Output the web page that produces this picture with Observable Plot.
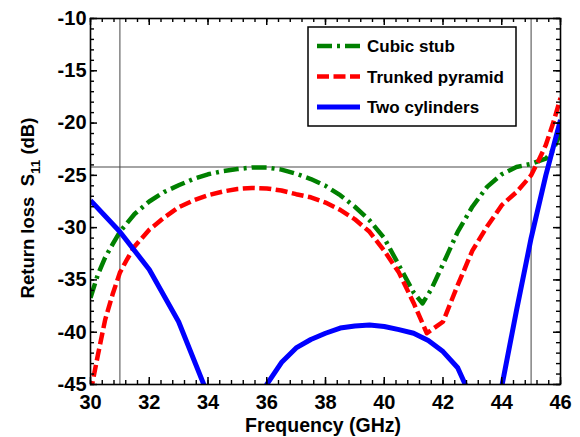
<!DOCTYPE html>
<html><head><meta charset="utf-8">
<script src="https://cdn.jsdelivr.net/npm/d3@7"></script>
<script src="https://cdn.jsdelivr.net/npm/@observablehq/plot@0.6"></script>
<style>html,body{margin:0;padding:0;background:#fff}</style>
</head><body><div id="chart"></div>
<script>
// ---- data ----
const cubicFreq = [30,30.25,30.5,30.75,31,31.5,32,32.5,33,33.5,34,34.5,35,35.5,36,36.5,37,37.5,38,38.5,39,39.5,40,40.5,41,41.3,41.6,42,42.5,43,43.5,44,44.5,45,45.5,45.75,46];
const cubicS11  = [-36.7,-34.5,-32.85,-31.6,-30.4,-28.7,-27.5,-26.6,-25.95,-25.35,-24.9,-24.6,-24.4,-24.25,-24.25,-24.45,-24.85,-25.35,-26.0,-26.9,-28.0,-29.3,-31.0,-33.6,-36.2,-37.25,-35.9,-33.5,-30.4,-28.0,-26.1,-24.9,-24.2,-23.9,-23.4,-22.6,-20.9];
const pyrFreq = [30,30.25,30.5,30.75,31,31.25,31.5,32,32.5,33,33.5,34,34.5,35,35.5,36,36.5,37,37.5,38,38.5,39,39.5,40,40.5,41,41.45,42,42.5,43,43.5,44,44.5,45,45.25,45.5,45.75,46];
const pyrS11  = [-45.8,-42.2,-38.8,-36.4,-34.3,-33.0,-31.8,-30.2,-29.05,-28.05,-27.4,-26.9,-26.55,-26.3,-26.2,-26.25,-26.45,-26.8,-27.1,-27.6,-28.3,-29.2,-30.4,-32.2,-34.3,-37.2,-40.1,-39.0,-35.5,-32.2,-29.9,-27.85,-26.6,-25.0,-23.6,-22.1,-20.0,-17.6];
const cylFreq = [30,31,32,33,34,35,35.5,36,36.5,37,37.5,38,38.5,39,39.5,40,40.5,41,41.5,42,42.5,43,43.5,44,44.5,45,45.5,46];
const cylS11  = [-27.4,-30.4,-34.0,-39.0,-46.0,-52,-48,-45.0,-42.9,-41.5,-40.7,-40.1,-39.6,-39.4,-39.3,-39.45,-39.75,-40.1,-40.8,-41.85,-43.4,-46.5,-52,-45.2,-37.95,-31.0,-25.0,-19.7];
const markerFreq = [31, 45];
const thresholdS11 = [-24.2];
const xTicks = [30,32,34,36,38,40,42,44,46];
const yTicks = [-45,-40,-35,-30,-25,-20,-15,-10];
const xMinor = d3.range(0, 41).map(i => +(30 + i*0.4).toFixed(2));
const yMinor = d3.range(-45, -9, 1);
const seriesNames = ["Cubic stub", "Trunked pyramid", "Two cylinders"];
const seriesColors = ["#008000", "#ff0000", "#0000ff"];
const seriesDash = ["15,5,3,5", "12,4.5", null];
const seriesWidth = [4.5, 4.5, 5];

const toRows = (fs, ss) => fs.map((f, i) => ({f, s: ss[i]}));
const series = [toRows(cubicFreq, cubicS11), toRows(pyrFreq, pyrS11), toRows(cylFreq, cylS11)];

// ---- layout ----
const W = 580, H = 437, mL = 90, mR = 20, mT = 18, mB = 53;
const iW = W - mL - mR, iH = H - mT - mB;
const font = "'Liberation Sans', Arial, Helvetica, sans-serif";
const MAJ = 7, MIN = 4;

const lineMarks = series.map((rows, i) => Plot.line(rows, {
  x: "f", y: "s", stroke: seriesColors[i], strokeWidth: seriesWidth[i],
  strokeDasharray: seriesDash[i] || undefined, strokeLinecap: "butt", clip: true
}));

const plot = Plot.plot({
  width: W, height: H, marginLeft: mL, marginRight: mR, marginTop: mT, marginBottom: mB,
  style: {fontFamily: font, fontWeight: "bold", fontSize: "20px", background: "#fff", color: "#000"},
  x: {domain: [30, 46]},
  y: {domain: [-45, -10]},
  marks: [
    Plot.ruleX(markerFreq, {stroke: "#7a7a7a", strokeWidth: 1.4}),
    Plot.ruleY(thresholdS11, {stroke: "#4a4a4a", strokeWidth: 1.2}),
    ...lineMarks,
    // inward ticks on all four sides
    Plot.tickX(xMinor, {x: d => d, insetTop: iH - MIN, stroke: "#000", strokeWidth: 1.4}),
    Plot.tickX(xTicks, {x: d => d, insetTop: iH - MAJ, stroke: "#000", strokeWidth: 1.5}),
    Plot.tickX(xMinor, {x: d => d, insetBottom: iH - MIN, stroke: "#000", strokeWidth: 1.4}),
    Plot.tickX(xTicks, {x: d => d, insetBottom: iH - MAJ, stroke: "#000", strokeWidth: 1.5}),
    Plot.tickY(yMinor, {y: d => d, insetRight: iW - MIN, stroke: "#000", strokeWidth: 1.4}),
    Plot.tickY(yTicks, {y: d => d, insetRight: iW - MAJ, stroke: "#000", strokeWidth: 1.5}),
    Plot.tickY(yMinor, {y: d => d, insetLeft: iW - MIN, stroke: "#000", strokeWidth: 1.4}),
    Plot.tickY(yTicks, {y: d => d, insetLeft: iW - MAJ, stroke: "#000", strokeWidth: 1.5}),
    Plot.frame({stroke: "#000", strokeWidth: 1.6}),
    Plot.axisX({ticks: xTicks, tickSize: 0, tickPadding: 10, tickFormat: d => String(d), label: null}),
    Plot.axisY({ticks: yTicks, tickSize: 0, tickPadding: 4, tickFormat: d => String(d), label: null})
  ]
});
document.getElementById("chart").appendChild(plot);

// ---- axis labels & legend ----
const svg = d3.select(plot);
svg.append("text")
  .attr("x", mL + iW / 2 - 2).attr("y", 432)
  .attr("text-anchor", "middle")
  .style("font-family", font).style("font-weight", "bold").style("font-size", "19.5px")
  .text("Frequency (GHz)");

const yl = svg.append("text")
  .attr("transform", `translate(34,${mT + iH / 2 + 7}) rotate(-90)`)
  .attr("text-anchor", "middle")
  .style("font-family", font).style("font-weight", "bold").style("font-size", "18.5px")
  .style("white-space", "pre");
yl.append("tspan").text("Return loss  S");
yl.append("tspan").attr("dy", 6).style("font-size", "13.5px").text("11");
yl.append("tspan").attr("dy", -6).text(" (dB)");

const lg = svg.append("g");
lg.append("rect").attr("x", 308).attr("y", 27).attr("width", 208).attr("height", 99)
  .attr("fill", "#fff").attr("stroke", "#000").attr("stroke-width", 1.5);
seriesNames.forEach((name, i) => {
  const cy = 46 + i * 30.5;
  lg.append("line").attr("x1", 317).attr("x2", 360).attr("y1", cy).attr("y2", cy)
    .attr("stroke", seriesColors[i]).attr("stroke-width", seriesWidth[i])
    .attr("stroke-dasharray", seriesDash[i]);
  lg.append("text").attr("x", 367).attr("y", cy + 6)
    .attr("text-anchor", "start")
    .style("font-family", font).style("font-weight", "bold").style("font-size", "17px")
    .text(name);
});
</script>
</body></html>
